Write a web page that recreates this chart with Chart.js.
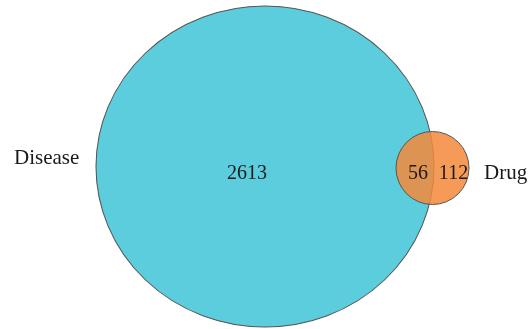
<!DOCTYPE html>
<html>
<head>
<meta charset="utf-8">
<script src="https://cdn.jsdelivr.net/npm/chart.js@4/dist/chart.umd.min.js"></script>
<style>
html,body{margin:0;padding:0;background:#fff;}
#wrap{width:532px;height:329px;position:relative;}
</style>
</head>
<body>
<div id="wrap"><canvas id="c" width="532" height="329"></canvas></div>
<script>
// Venn data
const setNames = ['Disease', 'Drug'];
const regionNames = ['Disease only', 'Both', 'Drug only'];
const regionCounts = [2613, 56, 112];

// Layout (pixel-space scale 0..532 x 0..329)
const layout = {
  circleX: [265, 432.5],
  circleY: [166.5, 168],
  circleR: [160.5, 36.5],
  aspect: [169 / 160.5, 1],
  fill: ['#5BCDDC', 'rgba(245,138,58,0.85)'],
  drawOrder: [1, 0],
  regionX: [247, 418, 453.5],
  regionY: [179, 179, 179],
  setLabelX: [14, 484],
  setLabelY: [164, 179],
  setLabelAlign: ['left', 'left']
};

const datasets = setNames.map((name, i) => ({
  label: name,
  data: [{x: layout.circleX[i], y: layout.circleY[i], r: layout.circleR[i]}],
  backgroundColor: layout.fill[i],
  borderColor: '#555555',
  borderWidth: 1,
  hoverBorderWidth: 1,
  order: layout.drawOrder[i],
  clip: false
}));

const ellipsePlugin = {
  id: 'ellipse',
  beforeDatasetDraw(chart, args) {
    const i = args.index;
    const ctx = chart.ctx;
    const cx = chart.scales.x.getPixelForValue(layout.circleX[i]);
    const cy = chart.scales.y.getPixelForValue(layout.circleY[i]);
    ctx.save();
    ctx.translate(cx, cy);
    ctx.scale(layout.aspect[i], 1);
    ctx.translate(-cx, -cy);
  },
  afterDatasetDraw(chart) {
    chart.ctx.restore();
  }
};

const textPlugin = {
  id: 'vennText',
  afterDatasetsDraw(chart) {
    const ctx = chart.ctx;
    const xs = chart.scales.x, ys = chart.scales.y;
    ctx.save();
    ctx.fillStyle = '#1a1a1a';
    ctx.font = '20px "Liberation Serif", "DejaVu Serif", serif';
    ctx.textBaseline = 'alphabetic';
    ctx.textAlign = 'center';
    regionCounts.forEach((v, i) => {
      ctx.fillText(String(v), xs.getPixelForValue(layout.regionX[i]), ys.getPixelForValue(layout.regionY[i]));
    });
    ctx.font = '21px "Liberation Serif", "DejaVu Serif", serif';
    setNames.forEach((n, i) => {
      ctx.textAlign = layout.setLabelAlign[i];
      ctx.fillText(n, xs.getPixelForValue(layout.setLabelX[i]), ys.getPixelForValue(layout.setLabelY[i]));
    });
    ctx.restore();
  }
};

new Chart(document.getElementById('c'), {
  type: 'bubble',
  data: {datasets},
  options: {
    responsive: false,
    animation: false,
    events: [],
    layout: {padding: 0, autoPadding: false},
    plugins: {legend: {display: false}, tooltip: {enabled: false}},
    scales: {
      x: {type: 'linear', min: 0, max: 532, display: false},
      y: {type: 'linear', min: 0, max: 329, reverse: true, display: false}
    }
  },
  plugins: [ellipsePlugin, textPlugin]
});
</script>
</body>
</html>
